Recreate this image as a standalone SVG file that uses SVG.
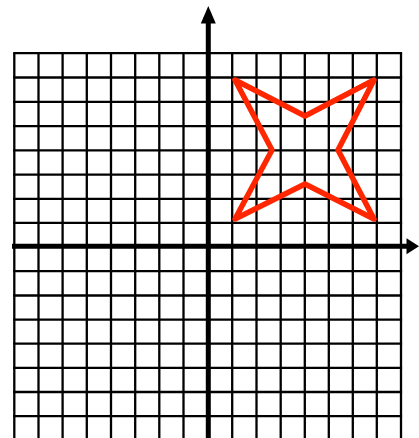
<svg xmlns="http://www.w3.org/2000/svg" width="419" height="438" viewBox="0 0 419 438">
<style>
.grid line{stroke:#000;stroke-width:2.3}
.axis{stroke:#000;stroke-width:5;fill:none}
.head{fill:#000}
.star{fill:none;stroke:#ff2600;stroke-width:5.5;stroke-linejoin:round}
</style>
<rect width="419" height="438" fill="#fff"/>
<g id="grid" class="grid">
<line x1="14.3" y1="53" x2="14.3" y2="438"/>
<line x1="38.5" y1="53" x2="38.5" y2="438"/>
<line x1="62.6" y1="53" x2="62.6" y2="438"/>
<line x1="86.8" y1="53" x2="86.8" y2="438"/>
<line x1="111" y1="53" x2="111" y2="438"/>
<line x1="135.2" y1="53" x2="135.2" y2="438"/>
<line x1="159.3" y1="53" x2="159.3" y2="438"/>
<line x1="183.5" y1="53" x2="183.5" y2="438"/>
<line x1="232.2" y1="53" x2="232.2" y2="438"/>
<line x1="256.5" y1="53" x2="256.5" y2="438"/>
<line x1="280.7" y1="53" x2="280.7" y2="438"/>
<line x1="304.8" y1="53" x2="304.8" y2="438"/>
<line x1="328.8" y1="53" x2="328.8" y2="438"/>
<line x1="352.8" y1="53" x2="352.8" y2="438"/>
<line x1="376.8" y1="53" x2="376.8" y2="438"/>
<line x1="401" y1="53" x2="401" y2="438"/>
<line x1="13.2" y1="53.2" x2="402.1" y2="53.2"/>
<line x1="13.2" y1="77.5" x2="402.1" y2="77.5"/>
<line x1="13.2" y1="101.8" x2="402.1" y2="101.8"/>
<line x1="13.2" y1="126.2" x2="402.1" y2="126.2"/>
<line x1="13.2" y1="150.4" x2="402.1" y2="150.4"/>
<line x1="13.2" y1="174.6" x2="402.1" y2="174.6"/>
<line x1="13.2" y1="198.8" x2="402.1" y2="198.8"/>
<line x1="13.2" y1="222.8" x2="402.1" y2="222.8"/>
<line x1="13.2" y1="271.1" x2="402.1" y2="271.1"/>
<line x1="13.2" y1="295.5" x2="402.1" y2="295.5"/>
<line x1="13.2" y1="319.6" x2="402.1" y2="319.6"/>
<line x1="13.2" y1="343.6" x2="402.1" y2="343.6"/>
<line x1="13.2" y1="367.8" x2="402.1" y2="367.8"/>
<line x1="13.2" y1="392" x2="402.1" y2="392"/>
<line x1="13.2" y1="416.2" x2="402.1" y2="416.2"/>
</g>
<g id="axes">
<line class="axis" x1="208.3" y1="20" x2="208.3" y2="438"/>
<polygon class="head" points="208.3,6 200.8,23.5 215.8,23.5"/>
<line class="axis" x1="12" y1="246.3" x2="409" y2="246.3"/>
<polygon class="head" points="419,246.3 406.5,238.3 406.5,254.3"/>
</g>
<g id="star">
<polygon class="star" points="235,80 305,116 374,80 338,150 374,219 305,184 235,219 272,150"/>
</g>
</svg>
